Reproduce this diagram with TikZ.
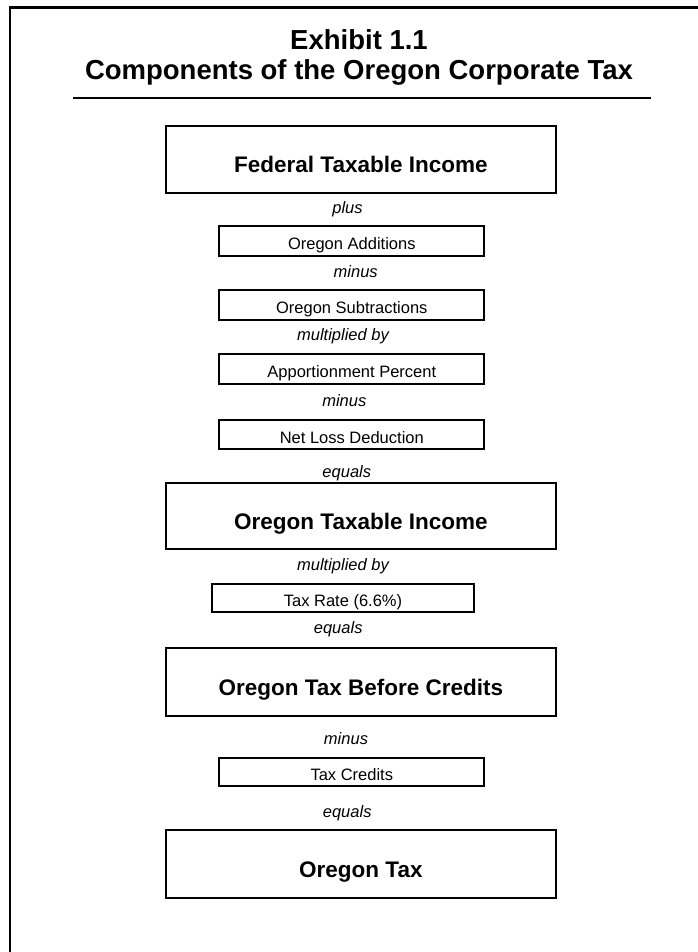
\documentclass[tikz,border=0pt]{standalone}
\usepackage{fontspec}
\setmainfont{Liberation Sans}
\begin{document}
\begin{tikzpicture}[x=1pt,y=-1pt,
  bigbox/.style={draw, line width=2pt, minimum width=390pt, minimum height=67.5pt, inner sep=0pt,
    text height=27pt, text depth=0pt, font=\bfseries\fontsize{22.5}{27}\selectfont},
  smallbox/.style={draw, line width=2pt, minimum width=265pt, minimum height=29.5pt, inner sep=0pt,
    text height=17pt, text depth=0pt, font=\fontsize{16.5}{20}\selectfont},
  op/.style={anchor=base, inner sep=0pt, font=\itshape\fontsize{16.5}{20}\selectfont},
  titletext/.style={anchor=base, inner sep=0pt, font=\bfseries\fontsize{27.5}{32}\selectfont}]
\useasboundingbox (0,0) rectangle (697,952);
% frame
\coordinate (fb) at (10,953);
\coordinate (fc) at (10,7.3);
\coordinate (fr) at (698,7.3);
\draw[line width=2.6pt] (fb) -- (fc) -- (fr);
% title
\node[titletext] (t1) at (359,50) {Exhibit 1.1};
\node[titletext] (t2) at (359,80) {Components of the Oregon Corporate Tax};
\coordinate (rl) at (73,98.5);
\coordinate (rr) at (650.5,98.5);
\draw[line width=2pt] (rl) -- (rr);
% boxes and operators
\node[bigbox] (fti) at (360.85,159.5) {Federal Taxable Income};
\node[op] (plus) at (347.5,213) {plus};
\node[smallbox] (oa) at (351.8,241) {Oregon Additions};
\node[op] (m1) at (355.7,277) {minus};
\node[smallbox] (os) at (351.8,305) {Oregon Subtractions};
\node[op] (x1) at (343,340) {multiplied by};
\node[smallbox] (ap) at (351.8,369) {Apportionment Percent};
\node[op] (m2) at (344.3,406) {minus};
\node[smallbox, minimum height=29pt] (nld) at (351.8,434.5) {Net Loss Deduction};
\node[op] (e1) at (346.8,477) {equals};
\node[bigbox, minimum height=66pt] (oti) at (360.85,516.3) {Oregon Taxable Income};
\node[op] (x2) at (343,570) {multiplied by};
\node[smallbox, minimum width=262.6pt, minimum height=28.3pt] (tr) at (343,598.2) {Tax Rate (6.6\%)};
\node[op] (e2) at (338.2,633) {equals};
\node[bigbox, minimum height=68.3pt] (otbc) at (360.85,681.8) {Oregon Tax Before Credits};
\node[op] (m3) at (346,744) {minus};
\node[smallbox, minimum height=28.3pt] (tc) at (351.8,771.9) {Tax Credits};
\node[op] (e3) at (347.2,817) {equals};
\node[bigbox] (ot) at (360.85,863.8) {Oregon Tax};
\end{tikzpicture}
\end{document}
